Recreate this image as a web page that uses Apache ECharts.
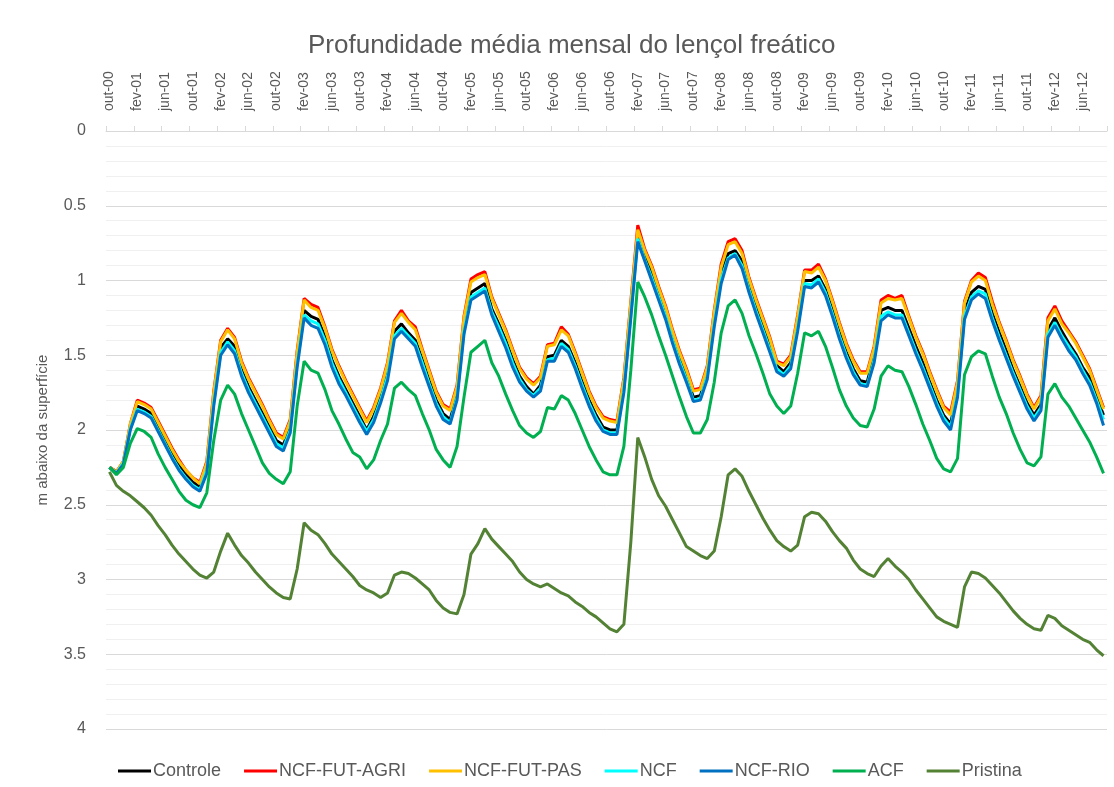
<!DOCTYPE html>
<html>
<head>
<meta charset="utf-8">
<script src="https://cdn.jsdelivr.net/npm/echarts@6/dist/echarts.min.js"></script>
<style>
html,body{margin:0;padding:0;background:#fff;}
#chart{width:1114px;height:787px;}
</style>
</head>
<body>
<div id="chart"></div>
<script>
const months = [
'out-00','nov-00','dez-00',
'jan-01','fev-01','mar-01','abr-01','mai-01','jun-01','jul-01','ago-01','set-01','out-01','nov-01','dez-01',
'jan-02','fev-02','mar-02','abr-02','mai-02','jun-02','jul-02','ago-02','set-02','out-02','nov-02','dez-02',
'jan-03','fev-03','mar-03','abr-03','mai-03','jun-03','jul-03','ago-03','set-03','out-03','nov-03','dez-03',
'jan-04','fev-04','mar-04','abr-04','mai-04','jun-04','jul-04','ago-04','set-04','out-04','nov-04','dez-04',
'jan-05','fev-05','mar-05','abr-05','mai-05','jun-05','jul-05','ago-05','set-05','out-05','nov-05','dez-05',
'jan-06','fev-06','mar-06','abr-06','mai-06','jun-06','jul-06','ago-06','set-06','out-06','nov-06','dez-06',
'jan-07','fev-07','mar-07','abr-07','mai-07','jun-07','jul-07','ago-07','set-07','out-07','nov-07','dez-07',
'jan-08','fev-08','mar-08','abr-08','mai-08','jun-08','jul-08','ago-08','set-08','out-08','nov-08','dez-08',
'jan-09','fev-09','mar-09','abr-09','mai-09','jun-09','jul-09','ago-09','set-09','out-09','nov-09','dez-09',
'jan-10','fev-10','mar-10','abr-10','mai-10','jun-10','jul-10','ago-10','set-10','out-10','nov-10','dez-10',
'jan-11','fev-11','mar-11','abr-11','mai-11','jun-11','jul-11','ago-11','set-11','out-11','nov-11','dez-11',
'jan-12','fev-12','mar-12','abr-12','mai-12','jun-12','jul-12','ago-12','set-12'
];

const controle = [
2.25,2.28,2.22,
1.98,1.84,1.86,1.89,1.98,2.07,2.16,2.24,2.30,2.35,2.38,2.25,
1.79,1.45,1.39,1.44,1.60,1.71,1.80,1.89,1.98,2.07,2.10,1.98,
1.53,1.20,1.24,1.26,1.38,1.53,1.64,1.73,1.82,1.91,2.00,1.91,
1.78,1.62,1.34,1.29,1.35,1.40,1.53,1.67,1.80,1.89,1.93,1.76,
1.31,1.08,1.05,1.02,1.19,1.29,1.40,1.53,1.64,1.71,1.76,1.70,
1.51,1.50,1.40,1.44,1.55,1.68,1.80,1.90,1.98,2.00,2.00,1.71,
1.20,0.70,0.83,0.95,1.09,1.22,1.38,1.52,1.64,1.78,1.77,1.62,
1.26,0.96,0.82,0.80,0.87,1.04,1.18,1.31,1.44,1.57,1.61,1.55,
1.29,1.00,1.00,0.97,1.06,1.20,1.35,1.48,1.59,1.67,1.68,1.50,
1.20,1.18,1.20,1.20,1.32,1.44,1.55,1.68,1.80,1.90,1.96,1.73,
1.21,1.08,1.04,1.06,1.22,1.35,1.47,1.60,1.71,1.82,1.90,1.83,
1.33,1.25,1.34,1.42,1.49,1.58,1.65,1.78,1.90
];

const ncfFutAgri = [
2.25,2.28,2.21,
1.96,1.80,1.82,1.85,1.94,2.03,2.12,2.20,2.27,2.32,2.35,2.21,
1.74,1.40,1.32,1.38,1.54,1.65,1.74,1.83,1.93,2.02,2.05,1.93,
1.47,1.12,1.16,1.18,1.31,1.46,1.57,1.67,1.76,1.85,1.94,1.85,
1.72,1.55,1.27,1.20,1.27,1.31,1.46,1.60,1.74,1.83,1.86,1.70,
1.24,0.99,0.96,0.94,1.11,1.22,1.33,1.46,1.58,1.65,1.69,1.64,
1.43,1.42,1.31,1.36,1.48,1.61,1.74,1.84,1.91,1.93,1.94,1.65,
1.14,0.63,0.79,0.90,1.04,1.17,1.33,1.47,1.59,1.73,1.72,1.57,
1.20,0.89,0.74,0.72,0.80,0.98,1.12,1.25,1.38,1.54,1.56,1.50,
1.23,0.93,0.93,0.89,0.99,1.13,1.28,1.42,1.53,1.61,1.61,1.44,
1.13,1.10,1.12,1.10,1.24,1.37,1.48,1.61,1.73,1.84,1.88,1.67,
1.14,1.00,0.95,0.98,1.14,1.28,1.40,1.53,1.64,1.76,1.85,1.77,
1.25,1.17,1.27,1.34,1.41,1.50,1.59,1.72,1.85
];

const ncfFutPas = [
2.25,2.28,2.21,
1.96,1.81,1.83,1.86,1.95,2.04,2.13,2.21,2.27,2.32,2.36,2.22,
1.75,1.41,1.33,1.39,1.55,1.66,1.75,1.84,1.94,2.03,2.06,1.94,
1.48,1.13,1.18,1.20,1.32,1.47,1.58,1.68,1.77,1.86,1.95,1.86,
1.73,1.56,1.28,1.22,1.28,1.33,1.47,1.61,1.75,1.84,1.87,1.71,
1.25,1.01,0.98,0.96,1.12,1.23,1.34,1.47,1.59,1.66,1.70,1.65,
1.44,1.43,1.33,1.37,1.49,1.62,1.75,1.85,1.92,1.94,1.95,1.66,
1.15,0.66,0.80,0.91,1.05,1.18,1.34,1.48,1.60,1.74,1.73,1.58,
1.21,0.91,0.76,0.74,0.82,0.99,1.13,1.26,1.39,1.55,1.57,1.51,
1.24,0.94,0.95,0.91,1.00,1.14,1.29,1.43,1.54,1.62,1.62,1.45,
1.15,1.12,1.13,1.12,1.25,1.38,1.49,1.62,1.74,1.85,1.90,1.68,
1.15,1.01,0.97,1.00,1.16,1.29,1.41,1.54,1.65,1.77,1.86,1.78,
1.27,1.19,1.29,1.35,1.42,1.51,1.60,1.73,1.86
];

const ncf = [
2.25,2.29,2.22,
1.99,1.86,1.88,1.91,2.00,2.09,2.18,2.26,2.32,2.37,2.40,2.27,
1.82,1.48,1.41,1.47,1.62,1.73,1.82,1.91,2.00,2.09,2.12,2.00,
1.56,1.23,1.27,1.29,1.40,1.55,1.66,1.75,1.84,1.93,2.01,1.93,
1.80,1.64,1.37,1.32,1.37,1.42,1.55,1.69,1.82,1.91,1.95,1.78,
1.34,1.11,1.08,1.05,1.21,1.31,1.42,1.55,1.66,1.73,1.77,1.72,
1.53,1.52,1.42,1.46,1.57,1.70,1.82,1.92,2.00,2.02,2.02,1.73,
1.23,0.72,0.86,0.98,1.11,1.24,1.40,1.54,1.66,1.80,1.79,1.64,
1.29,0.99,0.85,0.82,0.90,1.06,1.20,1.33,1.46,1.59,1.63,1.57,
1.32,1.02,1.03,0.99,1.08,1.22,1.37,1.50,1.61,1.69,1.70,1.53,
1.24,1.21,1.23,1.23,1.35,1.47,1.58,1.70,1.82,1.92,1.98,1.76,
1.24,1.11,1.07,1.09,1.25,1.38,1.50,1.62,1.73,1.84,1.92,1.85,
1.36,1.28,1.37,1.44,1.51,1.60,1.68,1.80,1.93
];

const ncfRio = [
2.25,2.29,2.23,
2.00,1.87,1.89,1.92,2.01,2.10,2.19,2.27,2.33,2.38,2.41,2.29,
1.84,1.50,1.43,1.49,1.64,1.75,1.84,1.93,2.02,2.11,2.14,2.02,
1.58,1.25,1.30,1.32,1.43,1.58,1.69,1.77,1.86,1.95,2.03,1.95,
1.82,1.67,1.39,1.34,1.39,1.44,1.58,1.71,1.84,1.93,1.96,1.80,
1.36,1.13,1.10,1.07,1.23,1.34,1.45,1.58,1.68,1.74,1.78,1.74,
1.54,1.54,1.44,1.48,1.59,1.72,1.84,1.94,2.01,2.03,2.03,1.75,
1.25,0.74,0.87,1.00,1.13,1.26,1.42,1.56,1.68,1.81,1.80,1.66,
1.31,1.02,0.86,0.83,0.92,1.08,1.22,1.35,1.48,1.61,1.64,1.59,
1.34,1.04,1.05,1.01,1.10,1.24,1.39,1.52,1.63,1.70,1.71,1.55,
1.27,1.23,1.25,1.25,1.37,1.49,1.60,1.72,1.84,1.94,2.00,1.78,
1.26,1.13,1.09,1.12,1.27,1.40,1.52,1.64,1.75,1.86,1.94,1.87,
1.38,1.30,1.39,1.47,1.53,1.62,1.70,1.82,1.97
];

const acf = [
2.25,2.30,2.25,
2.09,1.99,2.01,2.05,2.16,2.25,2.33,2.41,2.47,2.50,2.52,2.42,
2.07,1.80,1.70,1.76,1.89,2.00,2.11,2.22,2.29,2.33,2.36,2.28,
1.84,1.54,1.60,1.62,1.73,1.87,1.96,2.06,2.15,2.18,2.26,2.20,
2.07,1.96,1.72,1.68,1.73,1.77,1.89,2.00,2.13,2.20,2.25,2.11,
1.78,1.48,1.44,1.40,1.55,1.64,1.76,1.87,1.97,2.02,2.05,2.01,
1.85,1.86,1.77,1.80,1.89,2.00,2.11,2.20,2.28,2.30,2.30,2.11,
1.60,1.01,1.11,1.23,1.37,1.50,1.64,1.78,1.91,2.02,2.02,1.93,
1.68,1.35,1.17,1.13,1.22,1.37,1.49,1.62,1.76,1.84,1.89,1.84,
1.62,1.35,1.37,1.34,1.44,1.58,1.73,1.84,1.92,1.97,1.98,1.86,
1.64,1.57,1.60,1.61,1.71,1.83,1.96,2.07,2.19,2.26,2.28,2.19,
1.63,1.51,1.47,1.49,1.64,1.78,1.89,2.02,2.13,2.22,2.24,2.18,
1.76,1.69,1.78,1.84,1.92,2.00,2.08,2.18,2.29
];

const pristina = [
2.28,2.37,2.41,
2.44,2.48,2.52,2.57,2.64,2.70,2.77,2.83,2.88,2.93,2.97,2.99,
2.95,2.81,2.69,2.77,2.84,2.89,2.95,3.00,3.05,3.09,3.12,3.13,
2.93,2.62,2.67,2.70,2.76,2.83,2.88,2.93,2.98,3.04,3.07,3.09,
3.12,3.09,2.97,2.95,2.96,2.99,3.03,3.07,3.14,3.19,3.22,3.23,
3.10,2.83,2.76,2.66,2.73,2.78,2.83,2.88,2.95,3.00,3.03,3.05,
3.03,3.06,3.09,3.11,3.15,3.18,3.22,3.25,3.29,3.33,3.35,3.30,
2.75,2.05,2.18,2.33,2.44,2.51,2.60,2.69,2.78,2.81,2.84,2.86,
2.81,2.58,2.30,2.26,2.31,2.41,2.50,2.59,2.67,2.74,2.78,2.81,
2.77,2.58,2.55,2.56,2.61,2.68,2.74,2.79,2.87,2.93,2.96,2.98,
2.91,2.86,2.91,2.95,3.00,3.07,3.13,3.19,3.25,3.28,3.30,3.32,
3.05,2.95,2.96,2.99,3.04,3.09,3.15,3.21,3.26,3.30,3.33,3.34,
3.24,3.26,3.31,3.34,3.37,3.40,3.42,3.47,3.51
];

const yTickLabels = ['0','0.5','1','1.5','2','2.5','3','3.5','4'];

const FONT = '"Liberation Sans", Arial, sans-serif';
const GRAY = '#595959';

function line(name, data, color, width) {
  return {
    name: name, type: 'line', data: data, symbol: 'none', smooth: false,
    lineStyle: { color: color, width: width }, itemStyle: { color: color },
    emphasis: { disabled: true }, animation: false
  };
}

const chart = echarts.init(document.getElementById('chart'), null, { renderer: 'canvas' });
chart.setOption({
  backgroundColor: '#ffffff',
  animation: false,
  textStyle: { fontFamily: FONT },
  title: {
    text: 'Profundidade média mensal do lençol freático',
    left: 303, top: 28,
    textStyle: { fontSize: 26, fontWeight: 'normal', color: GRAY, fontFamily: FONT }
  },
  grid: { left: 106, right: 7, top: 131, bottom: 58, containLabel: false },
  legend: {
    left: 113, top: 757, itemWidth: 33, itemHeight: 3, itemGap: 23,
    icon: 'rect',
    textStyle: { fontSize: 18, color: GRAY, fontFamily: FONT, padding: [0, 0, 0, -3] },
    data: ['Controle','NCF-FUT-AGRI','NCF-FUT-PAS','NCF','NCF-RIO','ACF','Pristina']
  },
  xAxis: {
    type: 'category', position: 'top', data: months, boundaryGap: true,
    axisLine: { show: true, lineStyle: { color: '#d9d9d9', width: 1 } },
    axisTick: { show: true, interval: 3, length: 5, lineStyle: { color: '#d9d9d9' } },
    axisLabel: { interval: 3, rotate: 90, margin: 20, fontSize: 14, color: GRAY, fontFamily: FONT },
    splitLine: { show: false }
  },
  yAxis: {
    type: 'value', inverse: true, min: 0, max: 4, interval: 0.5,
    name: 'm abaixo da superfície', nameLocation: 'middle', nameGap: 56, nameRotate: 90,
    nameTextStyle: { fontSize: 15, color: GRAY, fontFamily: FONT },
    axisLine: { show: false }, axisTick: { show: false },
    axisLabel: {
      margin: 20, fontSize: 16, color: GRAY, fontFamily: FONT,
      formatter: function (v) { return yTickLabels[Math.round(v / 0.5)]; }
    },
    splitLine: { show: true, lineStyle: { color: '#d9d9d9', width: 1 } },
    minorTick: { show: false, splitNumber: 5 },
    minorSplitLine: { show: true, lineStyle: { color: '#f0f0f0', width: 1 } }
  },
  series: [
    line('Controle', controle, '#000000', 3),
    line('NCF-FUT-AGRI', ncfFutAgri, '#ff0000', 3),
    line('NCF-FUT-PAS', ncfFutPas, '#ffc000', 3),
    line('NCF', ncf, '#00ffff', 3),
    line('NCF-RIO', ncfRio, '#0070c0', 3),
    line('ACF', acf, '#00b050', 3),
    line('Pristina', pristina, '#548235', 3)
  ]
});
</script>
</body>
</html>
